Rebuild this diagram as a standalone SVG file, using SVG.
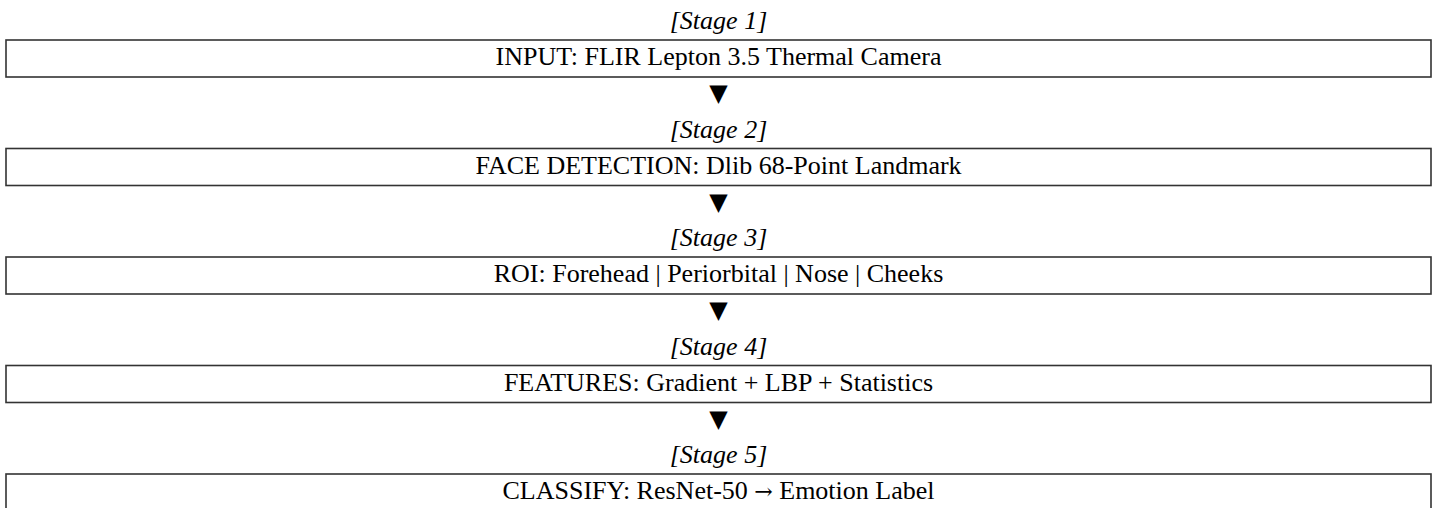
<svg xmlns="http://www.w3.org/2000/svg" width="1435" height="508" viewBox="0 0 1435 508">
<style>
.box{fill:#fff;stroke:#333;stroke-width:1.6}
.lbl{font-family:"Liberation Serif","Times New Roman",serif;font-size:26px;fill:#000;text-anchor:middle}
.stage{font-family:"Liberation Serif","Times New Roman",serif;font-size:26px;font-style:italic;fill:#000;text-anchor:middle}
.arr{font-family:"DejaVu Sans",sans-serif;font-size:24px;fill:#000;text-anchor:middle}
.sym{font-family:"DejaVu Serif",serif;font-size:22px}
</style>
<rect width="1435" height="508" fill="#fff"/>
<g id="stage1">
<text class="stage" x="718.5" y="29">[Stage 1]</text>
<rect class="box" x="6" y="40" width="1425" height="37"/>
<text class="lbl" x="718.5" y="65">INPUT: FLIR Lepton 3.5 Thermal Camera</text>
</g>
<g id="stage2">
<text class="stage" x="718.5" y="137.5">[Stage 2]</text>
<rect class="box" x="6" y="148.5" width="1425" height="37"/>
<text class="lbl" x="718.5" y="173.5">FACE DETECTION: Dlib 68-Point Landmark</text>
</g>
<g id="stage3">
<text class="stage" x="718.5" y="246">[Stage 3]</text>
<rect class="box" x="6" y="257" width="1425" height="37"/>
<text class="lbl" x="718.5" y="282">ROI: Forehead | Periorbital | Nose | Cheeks</text>
</g>
<g id="stage4">
<text class="stage" x="718.5" y="354.5">[Stage 4]</text>
<rect class="box" x="6" y="365.5" width="1425" height="37"/>
<text class="lbl" x="718.5" y="390.5">FEATURES: Gradient + LBP + Statistics</text>
</g>
<g id="stage5">
<text class="stage" x="718.5" y="463">[Stage 5]</text>
<rect class="box" x="6" y="474" width="1425" height="37"/>
<text class="lbl" x="718.5" y="499">CLASSIFY: ResNet-50 <tspan class="sym">→</tspan> Emotion Label</text>
</g>
<g id="connectors">
<text class="arr" x="718.5" y="101">▼</text>
<text class="arr" x="718.5" y="209.5">▼</text>
<text class="arr" x="718.5" y="318">▼</text>
<text class="arr" x="718.5" y="426.5">▼</text>
</g>
</svg>
